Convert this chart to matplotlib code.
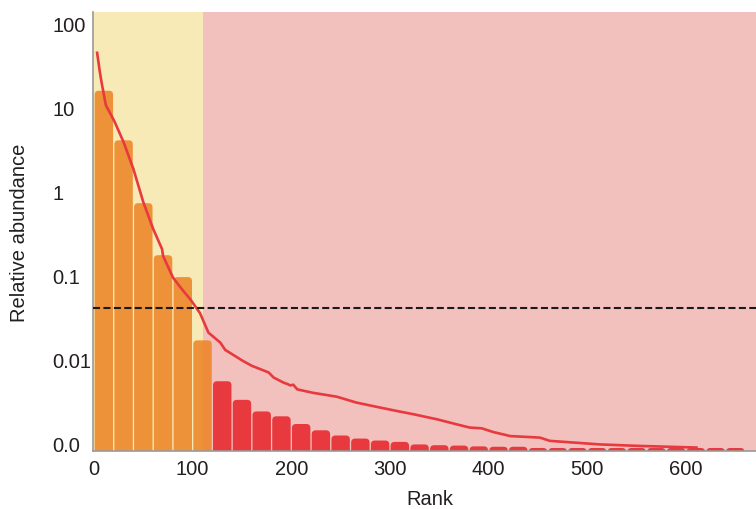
import matplotlib
matplotlib.use("Agg")
import matplotlib.pyplot as plt
from matplotlib.patches import FancyBboxPatch
from matplotlib.transforms import IdentityTransform

plt.rcParams['font.family'] = ['Liberation Sans', 'DejaVu Sans']

# ---- data ----
bin_width = 20
bar_values = [16, 4.1, 0.73, 0.175, 0.096, 0.0169, 0.0055, 0.0033, 0.0024, 0.0021,
              0.0017, 0.00143, 0.00124, 0.00114, 0.00108, 0.00104, 0.00097, 0.00095,
              0.00094, 0.00092, 0.00091, 0.00091, 0.00088, 0.00088, 0.00088, 0.00088,
              0.00088, 0.00088, 0.00088, 0.00088, 0.00088, 0.00088, 0.00088]
n_abundant_bins = 6

curve_rank = [3, 6, 8, 12, 21, 30, 40, 50, 60, 69, 70, 80, 89, 98, 107.5, 116, 128, 133,
              151, 160, 177, 182, 192, 196, 199, 202, 206, 222, 246, 266, 290, 307, 324,
              348, 368, 381, 393, 405, 422, 452, 462, 513, 554, 612]
curve_value = [47, 26.5, 19.2, 10.8, 6.8, 3.9, 1.86, 0.75, 0.36, 0.207, 0.172, 0.095,
               0.069, 0.0515, 0.0356, 0.0209, 0.0159, 0.013, 0.0096, 0.0084, 0.0070,
               0.0061, 0.0053, 0.0051, 0.0049, 0.0050, 0.0044, 0.0040, 0.0036, 0.00306,
               0.00267, 0.00243, 0.00222, 0.00193, 0.00168, 0.00154, 0.00151, 0.00136,
               0.00122, 0.00117, 0.00107, 0.00097, 0.00093, 0.00089]

threshold = 0.041
boundary_rank = 110.5

x_ticks = [0, 100, 200, 300, 400, 500, 600]
y_ticks = [100, 10, 1, 0.1, 0.01, 0.001]
y_tick_labels = ['100', '10', '1', '0.1', '0.01', '0.0']

xlim = (-1, 671)
ylim = (0.00081, 139)

# ---- colours ----
c_yellow = '#F7EAB6'
c_pink = '#F2C1BE'
c_orange = '#EC7F1E'
c_red = '#E8393E'
c_text = '#231F20'

W, H = 756, 510
fig = plt.figure(figsize=(W / 100, H / 100), dpi=100)
ax = fig.add_axes([93 / W, 58 / H, 663 / W, 439 / H])
ax.set_yscale('log')
ax.set_xlim(*xlim)
ax.set_ylim(*ylim)
ax.set_autoscale_on(False)

ax.axvspan(xlim[0], boundary_rank, color=c_yellow, lw=0, zorder=0)
ax.axvspan(boundary_rank, xlim[1], color=c_pink, lw=0, zorder=0)

# rounded-top bars, computed through the axes' data transform
r = 4.0
for i, v in enumerate(bar_values):
    left = i * bin_width
    x0, yb = ax.transData.transform((left, ylim[0]))
    x1, yt = ax.transData.transform((left + bin_width, v))
    yb -= r + 2
    h = yt - yb
    w = (x1 - x0) - 1.3
    rs = min(r, h / 2, w / 2)
    if i < n_abundant_bins:
        fc, alpha = c_orange, 0.82
    else:
        fc, alpha = c_red, 1.0
    p = FancyBboxPatch((x0 + 0.65, yb), w, h,
                       boxstyle=f"round,pad=0,rounding_size={rs}",
                       transform=IdentityTransform(), facecolor=fc, alpha=alpha,
                       edgecolor='none', zorder=2)
    ax.add_patch(p)
    p.set_clip_path(ax.patch)

ax.plot(curve_rank, curve_value, color=c_red, lw=1.9, zorder=3, solid_capstyle='butt')
ax.axhline(threshold, color='#1a1a1a', lw=1.5, ls=(0, (3.4, 1.6)), zorder=4)

ax.set_xlim(*xlim)
ax.set_ylim(*ylim)

ax.set_xticks(x_ticks)
ax.set_xticklabels([str(t) for t in x_ticks])
ax.set_yticks(y_ticks)
ax.set_yticklabels(y_tick_labels)
ax.yaxis.set_minor_locator(matplotlib.ticker.NullLocator())
ax.tick_params(axis='both', length=0, labelsize=14.5, colors=c_text)
ax.tick_params(axis='x', pad=6)
ax.tick_params(axis='y', pad=29.5)
for lab in ax.get_yticklabels():
    lab.set_horizontalalignment('left')

for s in ['top', 'right']:
    ax.spines[s].set_visible(False)
for s in ['left', 'bottom']:
    ax.spines[s].set_color('#9a9a9a')
    ax.spines[s].set_linewidth(1.2)

ax.set_xlabel('Rank', fontsize=14.5, color=c_text)
ax.set_ylabel('Relative abundance', fontsize=14.5, color=c_text)
ax.xaxis.set_label_coords(0.5075, -0.087)
ax.yaxis.set_label_coords(-0.097, 0.5)

fig.savefig('out.png', dpi=100)
